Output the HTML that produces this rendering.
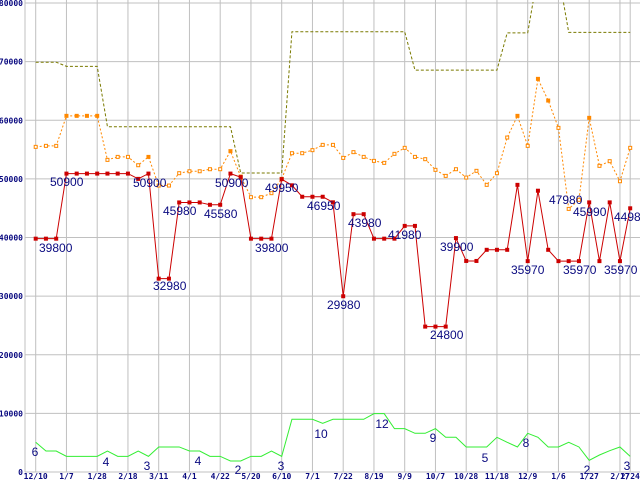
<!DOCTYPE html>
<html><head><meta charset="utf-8"><style>
html,body{margin:0;padding:0;background:#fff;width:640px;height:480px;overflow:hidden}
svg{display:block}
.t{font-family:"Liberation Sans",sans-serif;font-size:12px;fill:#0a0a80}
.ax{font-family:"DejaVu Sans Mono","Liberation Mono",monospace;font-size:8px;font-weight:bold;fill:#0a0a80}
</style></head><body>
<svg id="chart" width="640" height="480"></svg>
<script>
const xLabels=["12/10","1/7","1/28","2/18","3/11","4/1","4/22","5/20","6/10","7/1","7/22","8/19","9/9","10/7","10/28","11/18","12/9","1/6","1/27","2/17","2/24"];
const yTicks=[0,10000,20000,30000,40000,50000,60000,70000,80000];
const priceMin=[39800,39800,39800,50900,50900,50900,50900,50900,50900,50900,50000,50900,32980,32980,45980,45980,45980,45580,45580,50900,50300,39800,39800,39800,49950,48900,46950,46950,46950,46000,29980,43980,43980,39800,39800,39800,41980,41980,24800,24800,24800,39900,36000,36000,37900,37900,37900,48980,35970,47980,37900,35970,35970,35970,45990,35970,45990,35970,44980];
const priceAvg=[55460,55630,55630,60750,60750,60750,60750,53240,53750,53750,52330,53750,48860,48860,50970,51300,51300,51650,51650,54730,50400,46880,46880,47560,50000,54380,54380,54900,55800,55800,53580,54560,53750,53070,52730,54270,55290,53750,53360,51540,50510,51650,50220,51370,48980,50970,57050,60750,55630,67060,63360,58700,44880,46420,60410,52220,53020,49600,55290];
const priceMax=[69900,69900,69900,69200,69200,69200,69200,58900,58900,58900,58900,58900,58900,58900,58900,58900,58900,58900,58900,58900,51000,51000,51000,51000,51000,75100,75100,75100,75100,75100,75100,75100,75100,75100,75100,75100,75100,68550,68550,68550,68550,68550,68550,68550,68550,68550,74900,74900,74900,85000,85000,85000,75000,75000,75000,75000,75000,75000,75000];
const shopVol=[5070,3580,3580,2670,2670,2670,2670,3580,2670,2670,3580,2670,4270,4270,4270,3580,3580,2670,2670,1880,1880,2670,2670,3580,2670,8990,8990,8990,8300,8990,8990,8990,8990,9950,9950,7400,7400,6600,6600,7400,5920,5920,4270,4270,4270,5920,5070,4270,6600,5920,4270,4270,5070,4270,1990,2900,3640,4270,2670];
const redLabels=[["39800",39,248],["50900",50,182],["50900",133,183],["32980",153,286],["45980",163,211],["45580",204,214],["50900",215,183],["39800",255,248],["49950",265,188],["46950",307,206],["29980",327,305],["43980",348,223],["41980",388,235],["39900",440,247],["24800",430,335],["47980",549,200],["35970",511,270],["45990",573,212],["35970",563,270],["35970",604,270],["44980",614,217]];
const greenLabels=[["6",35,456],["4",106,466],["3",147,470],["4",198,465],["2",238,474],["3",281,470],["10",321,438],["12",382,428],["9",433,442],["5",485,462],["8",526,447],["2",587,474],["3",627,470]];

const NS="http://www.w3.org/2000/svg";
const svg=document.getElementById('chart');
const X0=35.7,DX=10.25,Y0=472,KY=469/80000;
const xs=i=>X0+i*DX;
const ys=v=>Y0-v*KY;
function mk(tag,attrs,parent){const e=document.createElementNS(NS,tag);for(const k in attrs)e.setAttribute(k,attrs[k]);(parent||svg).appendChild(e);return e;}
const defs=mk('defs',{});const cp=mk('clipPath',{id:'plot'},defs);mk('rect',{x:25,y:2,width:615,height:472},cp);

const grid=mk('g',{});


yTicks.forEach(v=>{
  mk('line',{x1:25,x2:640,y1:ys(v),y2:ys(v),stroke:'#c0c0c0','stroke-width':1},grid);
  const t=mk('text',{x:23,y:ys(v)+3,'text-anchor':'end',class:'ax'});
  t.textContent=String(v);
  
  
});
mk('line',{x1:25,x2:25,y1:0,y2:472,stroke:'#c0c0c0'},grid);
xLabels.forEach((l,k)=>{
  const i=k<20?k*3:58;
  mk('line',{x1:xs(i),x2:xs(i),y1:0,y2:472,stroke:'#c0c0c0'},grid);
  const t=mk('text',{x:xs(i),y:479,'text-anchor':'middle',class:'ax'});
  t.textContent=l;
  
  
});

function series(arr,color,dash,name){
  const g=mk('g',{'clip-path':'url(#plot)'});
  
  
  const p=mk('polyline',{points:arr.map((v,i)=>xs(i)+','+ys(v)).join(' '),fill:'none',stroke:color,'stroke-width':1},g);
  if(dash)p.setAttribute('stroke-dasharray',dash);
  return g;
}
series(shopVol,'#33ee33',null,'shop-count-line');
series(priceMax,'#7a7a00','3,2','max-price-line');
const ga=series(priceAvg,'#ff8800','2,2','avg-price-line');
priceAvg.forEach((v,i)=>{
  const r=mk('rect',{x:xs(i)-1.5,y:ys(v)-1.5,width:3,height:3,fill:(v>60000||i==19||i==11)?'#ff8800':'#fff',stroke:'#ff8800','stroke-width':1},ga);
  
  
});
const gr=series(priceMin,'#cc0000',null,'min-price-line');
priceMin.forEach((v,i)=>{
  const r=mk('rect',{x:xs(i)-2,y:ys(v)-2,width:4,height:4,fill:'#cc0000'},gr);
  
  
});
redLabels.forEach(([s,x,y])=>{
  const t=mk('text',{x:x,y:y+4,class:'t'});t.textContent=s;
  
  
});
greenLabels.forEach(([s,x,y])=>{
  const t=mk('text',{x:x,y:y,'text-anchor':'middle',class:'t'});t.textContent=s;
  
  
});
</script>
</body></html>
